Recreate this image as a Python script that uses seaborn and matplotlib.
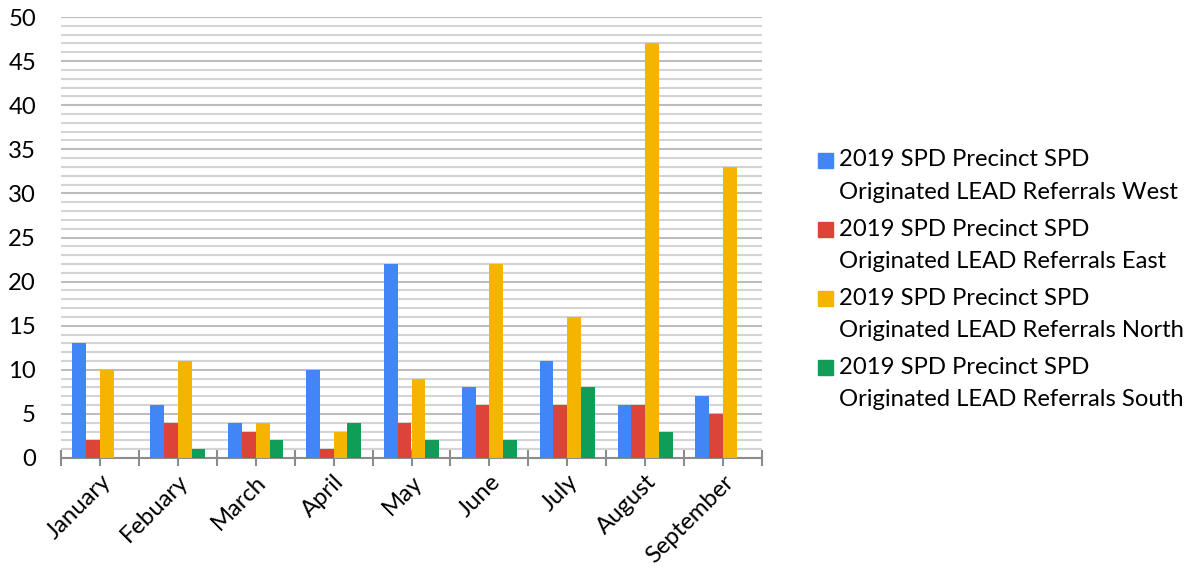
import matplotlib
matplotlib.use("Agg")
import matplotlib.pyplot as plt
import matplotlib.patches as mpatches
from matplotlib.ticker import MultipleLocator, FixedLocator
import seaborn as sns
import pandas as pd
import numpy as np

months = ["January", "Febuary", "March", "April", "May", "June", "July", "August", "September"]
series_names = [
    "2019 SPD Precinct SPD Originated LEAD Referrals West",
    "2019 SPD Precinct SPD Originated LEAD Referrals East",
    "2019 SPD Precinct SPD Originated LEAD Referrals North",
    "2019 SPD Precinct SPD Originated LEAD Referrals South",
]
west = [13, 6, 4, 10, 22, 8, 11, 6, 7]
east = [2, 4, 3, 1, 4, 6, 6, 6, 5]
north = [10, 11, 4, 3, 9, 22, 16, 47, 33]
south = [0, 1, 2, 4, 2, 2, 8, 3, 0]
colors = ["#4285F4", "#DB4437", "#F4B400", "#0F9D58"]

rows = []
for name, vals in zip(series_names, [west, east, north, south]):
    for m, v in zip(months, vals):
        rows.append({"Month": m, "Series": name, "Value": v})
df = pd.DataFrame(rows)

sns.set_theme(style="white")
plt.rcParams["font.family"] = ["Lato", "DejaVu Sans"]

FS = 17.2

fig = plt.figure(figsize=(11.94, 5.79), dpi=100)
ax = fig.add_axes([61/1194, 1-458/579, (762-61)/1194, (458-17)/579])

sns.barplot(data=df, x="Month", y="Value", hue="Series", order=months,
            hue_order=series_names, palette=colors, width=0.71,
            saturation=1, ax=ax, legend=False, zorder=3, linewidth=0)

ax.set_xlim(-0.5, len(months) - 0.5)
ax.set_ylim(0, 50)
ax.yaxis.set_major_locator(MultipleLocator(5))
ax.yaxis.set_minor_locator(MultipleLocator(1))
ax.grid(which="minor", axis="y", color="#d4d4d4", linewidth=1.5, zorder=0)
ax.grid(which="major", axis="y", color="#bdbdbd", linewidth=1.5, zorder=0)
ax.set_axisbelow(True)

for s in ["top", "right", "left"]:
    ax.spines[s].set_visible(False)
ax.spines["bottom"].set_color("#8c8c8c")
ax.spines["bottom"].set_linewidth(1.5)

ax.xaxis.set_major_locator(FixedLocator(np.arange(len(months))))
ax.xaxis.set_minor_locator(FixedLocator(np.arange(len(months) + 1) - 0.5))
ax.tick_params(axis="x", which="both", direction="inout", length=11, width=1.5,
               color="#8c8c8c", bottom=True)
ax.tick_params(axis="x", which="major", pad=4)
ax.set_xticks(np.arange(len(months)))
ax.set_xticklabels(months, rotation=45, ha="right", rotation_mode="anchor",
                   fontsize=FS, color="#000000")
ax.tick_params(axis="y", which="both", length=0, labelsize=FS, labelcolor="#000000", pad=18)
ax.set_xlabel("")
ax.set_ylabel("")

# Legend (manual, two-line labels with square aligned to first line)
line1 = "2019 SPD Precinct SPD"
line2s = ["Originated LEAD Referrals West", "Originated LEAD Referrals East",
          "Originated LEAD Referrals North", "Originated LEAD Referrals South"]
y0 = 160
for i, (c, l2) in enumerate(zip(colors, line2s)):
    yc = y0 + i * 69.3
    fig.patches.append(mpatches.Rectangle((818/1194, 1-(yc+7.5)/579), 15/1194, 15/579,
                                          transform=fig.transFigure, color=c, figure=fig))
    fig.text(839/1194, 1-yc/579, line1, fontsize=FS, va="center", ha="left", color="#000000")
    fig.text(839/1194, 1-(yc+32)/579, l2, fontsize=FS, va="center", ha="left", color="#000000")

fig.savefig("out.png", dpi=100)
